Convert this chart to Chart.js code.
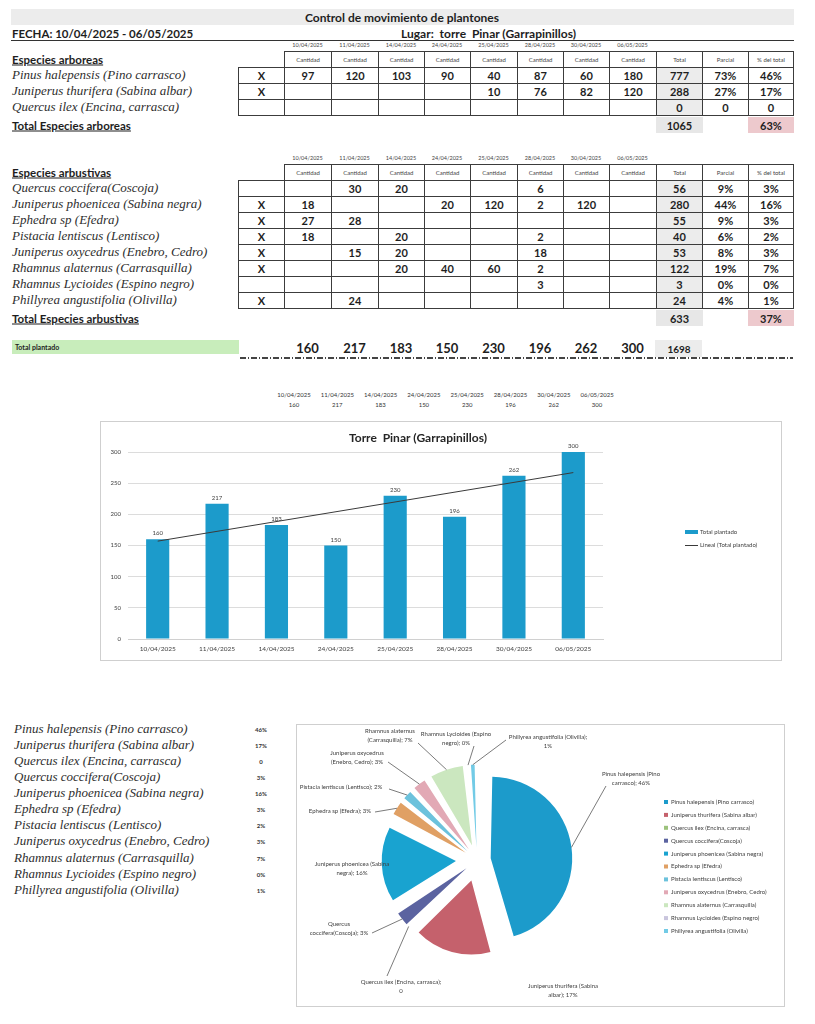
<!DOCTYPE html>
<html>
<head>
<meta charset="utf-8">
<script src="https://cdn.jsdelivr.net/npm/chart.js@4.4.1/dist/chart.umd.min.js"></script>
<style>
body { margin:0; background:#fff; }
#page { position:relative; width:815px; height:1024px; overflow:hidden; font-family:Lato,'Liberation Sans',sans-serif; color:#1e1e1e; }
.abs { position:absolute; white-space:nowrap; }
.cell { position:absolute; box-sizing:border-box; display:flex; align-items:center; justify-content:center; font-weight:bold; font-size:11px; }
.brd { border:1px solid #3c3c3c; }
.tiny { font-weight:normal; font-size:6px; color:#444; }
.sp { font-family:'Liberation Serif',serif; font-style:italic; font-size:13px; color:#2e2e2e; }
.hd { font-weight:bold; font-size:11.5px; text-decoration:underline; }
.frame { position:absolute; box-sizing:border-box; border:1px solid #cfcfcf; }
canvas { position:absolute; }
</style>
</head>
<body>
<div id="page">
  <div class="frame" style="left:100px;top:421px;width:682px;height:240px;"></div>
  <canvas id="bar" width="680" height="238" style="left:101px;top:422px;width:680px;height:238px;"></canvas>
  <div class="frame" style="left:296px;top:724px;width:489px;height:283px;"></div>
  <canvas id="pie" width="487" height="281" style="left:297px;top:725px;width:487px;height:281px;"></canvas>
</div>
<script>
// ---- data read from the sheet ----
var dates = ['10/04/2025','11/04/2025','14/04/2025','24/04/2025','25/04/2025','28/04/2025','30/04/2025','06/05/2025'];

var treeNames = ['Pinus halepensis (Pino carrasco)','Juniperus thurifera (Sabina albar)','Quercus ilex (Encina, carrasca)'];
var treeMarks = ['X','X',''];
var treeCounts = [
  [97,120,103,90,40,87,60,180],
  [null,null,null,null,10,76,82,120],
  [null,null,null,null,null,null,null,null]
];
var treeTotals = [777,288,0];
var treeParcial = ['73%','27%','0'];
var treeShare = ['46%','17%','0'];
var treeSum = 1065;
var treeSumShare = '63%';

var shrubNames = ['Quercus coccifera(Coscoja)','Juniperus phoenicea (Sabina negra)','Ephedra sp (Efedra)','Pistacia lentiscus (Lentisco)','Juniperus oxycedrus (Enebro, Cedro)','Rhamnus alaternus (Carrasquilla)','Rhamnus Lycioides (Espino negro)','Phillyrea angustifolia (Olivilla)'];
var shrubMarks = ['','X','X','X','X','X','','X'];
var shrubCounts = [
  [null,30,20,null,null,6,null,null],
  [18,null,null,20,120,2,120,null],
  [27,28,null,null,null,null,null,null],
  [18,null,20,null,null,2,null,null],
  [null,15,20,null,null,18,null,null],
  [null,null,20,40,60,2,null,null],
  [null,null,null,null,null,3,null,null],
  [null,24,null,null,null,null,null,null]
];
var shrubTotals = [56,280,55,40,53,122,3,24];
var shrubParcial = ['9%','44%','9%','6%','8%','19%','0%','4%'];
var shrubShare = ['3%','16%','3%','2%','3%','7%','0%','1%'];
var shrubSum = 633;
var shrubSumShare = '37%';

var dailyTotals = [160,217,183,150,230,196,262,300];
var grandTotal = 1698;
var trendEnds = [157,267];   // linear trend line, read at first and last date

var pieNames = treeNames.concat(shrubNames);
var pieValues = treeTotals.concat(shrubTotals);
var pieShareText = treeShare.concat(shrubShare);
var pieColors = ['#1c9bcb','#c5616c','#9cc27c','#5b63a0','#19a3d0','#e0a064','#6cc2dc','#e2a9b5','#cbe7bf','#c9c5dd','#72cbe6'];

// ---- layout ----
var page = document.getElementById('page');
var colX = [238,284,331,378,424,470,517,563,609,656,702,748,793];

function put(text, x, y, cls, center, st) {
  var d = document.createElement('div');
  d.className = 'abs ' + (cls || '');
  d.textContent = text;
  d.style.left = x + 'px';
  d.style.top = y + 'px';
  d.style.transform = center ? 'translate(-50%,-50%)' : 'translateY(-50%)';
  if (st) Object.assign(d.style, st);
  page.appendChild(d);
  return d;
}
function cell(c, y1, y2, text, cls, st) {
  var d = document.createElement('div');
  d.className = 'cell ' + (cls || '');
  d.style.left = colX[c] + 'px';
  d.style.top = y1 + 'px';
  d.style.width = (colX[c + 1] - colX[c] + 1) + 'px';
  d.style.height = (y2 - y1 + 1) + 'px';
  d.textContent = text == null ? '' : text;
  if (st) Object.assign(d.style, st);
  page.appendChild(d);
  return d;
}

// header
var bar = document.createElement('div');
bar.className = 'abs';
Object.assign(bar.style, {left:'11px', top:'9px', width:'783px', height:'16px', background:'#ececec'});
page.appendChild(bar);
put('Control de movimiento de plantones', 402, 17, '', true, {fontWeight:'bold', fontSize:'12px'});
put('FECHA: 10/04/2025 - 06/05/2025', 12, 33, '', false, {fontWeight:'bold', fontSize:'11.5px'});
put('Lugar:  torre  Pinar (Garrapinillos)', 401, 33, '', false, {fontWeight:'bold', fontSize:'12px', whiteSpace:'pre'});
var rule = document.createElement('div');
rule.className = 'abs';
Object.assign(rule.style, {left:'11px', top:'40px', width:'783px', height:'0', borderTop:'1.5px solid #333'});
page.appendChild(rule);

function buildTable(top, rowH, title, totalTitle, names, marks, counts, totals, parcial, share, sum, sumShare) {
  var hTop = top, hBot = top + rowH;
  dates.forEach(function (d, i) {
    put(d, (colX[i + 1] + colX[i + 2]) / 2, hTop - 6, 'tiny', true, {fontSize:'5.5px'});
    cell(i + 1, hTop, hBot, 'Cantidad', 'brd tiny');
  });
  cell(9, hTop, hBot, 'Total', 'brd tiny');
  cell(10, hTop, hBot, 'Parcial', 'brd tiny');
  cell(11, hTop, hBot, '% del total', 'brd tiny');
  put(title, 12, hTop + rowH / 2, 'hd');
  names.forEach(function (n, r) {
    var y1 = hBot + r * rowH, y2 = y1 + rowH;
    put(n, 12, (y1 + y2) / 2, 'sp');
    cell(0, y1, y2, marks[r], 'brd');
    counts[r].forEach(function (v, i) { cell(i + 1, y1, y2, v, 'brd'); });
    cell(9, y1, y2, totals[r], 'brd', {background:'#ececec'});
    cell(10, y1, y2, parcial[r], 'brd');
    cell(11, y1, y2, share[r], 'brd');
  });
  var t1 = hBot + names.length * rowH + 2, t2 = t1 + 15;
  put(totalTitle, 12, (t1 + t2) / 2, 'hd');
  cell(9, t1, t2, sum, '', {background:'#e7e7e7'});
  cell(11, t1, t2, sumShare, '', {background:'#edc9cd'});
}
buildTable(51, 16, 'Especies arboreas', 'Total Especies arboreas', treeNames, treeMarks, treeCounts, treeTotals, treeParcial, treeShare, treeSum, treeSumShare);
buildTable(164, 16, 'Especies arbustivas', 'Total Especies arbustivas', shrubNames, shrubMarks, shrubCounts, shrubTotals, shrubParcial, shrubShare, shrubSum, shrubSumShare);

// total plantado row
var g = document.createElement('div');
g.className = 'abs';
Object.assign(g.style, {left:'12px', top:'340px', width:'227px', height:'14px', background:'#c8edbb'});
page.appendChild(g);
put('Total plantado', 15, 347, '', false, {fontWeight:'bold', fontSize:'7px'});
dailyTotals.forEach(function (v, i) {
  put(String(v), (colX[i + 1] + colX[i + 2]) / 2, 348, '', true, {fontWeight:'bold', fontSize:'13px'});
});
var gt = document.createElement('div');
gt.className = 'abs';
Object.assign(gt.style, {left:'655px', top:'340px', width:'47px', height:'17px', background:'#ececec'});
page.appendChild(gt);
put(String(grandTotal), 679, 349, '', true, {fontWeight:'bold', fontSize:'10px'});
var dash = document.createElement('div');
dash.className = 'abs';
Object.assign(dash.style, {left:'240px', top:'357px', width:'553px', height:'2px',
  background:'repeating-linear-gradient(90deg,#444 0 6px,transparent 6px 8px,#444 8px 9px,transparent 9px 11px)'});
page.appendChild(dash);

// small date / value list over the bar chart
dates.forEach(function (d, i) {
  var x = 294 + i * 43.3;
  put(d, x, 394, '', true, {fontSize:'6px', color:'#333'});
  put(String(dailyTotals[i]), x, 404, '', true, {fontSize:'6px', color:'#333'});
});

// species list beside the pie
pieNames.forEach(function (n, i) {
  var y = 729 + i * 16.07;
  put(n, 14, y, 'sp');
  put(pieShareText[i], 261, y, '', true, {fontWeight:'bold', fontSize:'6px', color:'#333'});
});

// ---- bar chart ----
var trendLine = dates.map(function () { return null; });
trendLine[0] = trendEnds[0];
trendLine[trendLine.length - 1] = trendEnds[1];

var barExtras = {
  id: 'barExtras',
  afterDatasetsDraw: function (chart) {
    var ctx = chart.ctx;
    var meta = chart.getDatasetMeta(0);
    ctx.save();
    ctx.fillStyle = '#404040';
    ctx.font = '6px Lato';
    ctx.textAlign = 'center';
    ctx.textBaseline = 'alphabetic';
    meta.data.forEach(function (b, i) {
      ctx.fillText(String(dailyTotals[i]), b.x, b.y - 4);
    });
    // title
    ctx.fillStyle = '#262626';
    ctx.font = 'bold 12px Lato';
    ctx.fillText('Torre  Pinar (Garrapinillos)', 317, 20);
    // legend
    var a = chart.chartArea;
    var lx = a.right + 82;
    ctx.fillStyle = '#1c9bcb';
    ctx.fillRect(lx, 108, 13, 4);
    ctx.strokeStyle = '#3a3a3a';
    ctx.lineWidth = 1;
    ctx.beginPath();
    ctx.moveTo(lx, 123.5);
    ctx.lineTo(lx + 13, 123.5);
    ctx.stroke();
    ctx.fillStyle = '#404040';
    ctx.font = '6px Lato';
    ctx.textAlign = 'left';
    ctx.textBaseline = 'middle';
    ctx.fillText('Total plantado', lx + 15, 110);
    ctx.fillText('Lineal (Total plantado)', lx + 15, 123);
    ctx.restore();
  }
};

new Chart(document.getElementById('bar'), {
  type: 'bar',
  data: {
    labels: dates,
    datasets: [
      {label:'Total plantado', data:dailyTotals, backgroundColor:'#1c9bcb', barPercentage:0.39, categoryPercentage:1, order:1},
      {type:'line', label:'Lineal (Total plantado)', data:trendLine, borderColor:'#3a3a3a', borderWidth:1, pointRadius:0, spanGaps:true, order:0}
    ]
  },
  options: {
    responsive:false, animation:false, events:[],
    layout:{padding:{top:30, right:178, left:0, bottom:0}},
    plugins:{legend:{display:false}, tooltip:{enabled:false}},
    scales:{
      x:{grid:{display:false, drawTicks:false}, border:{color:'#d0d0d0'},
         ticks:{font:{size:6.5, family:'Lato'}, color:'#404040', maxRotation:0, autoSkip:false, padding:6},
         afterFit:function (s) { s.height = 21; }},
      y:{min:0, max:300, ticks:{stepSize:50, font:{size:6, family:'Lato'}, color:'#404040', padding:7},
         grid:{color:'#dcdcdc', drawTicks:false}, border:{display:false},
         afterFit:function (s) { s.width = 27; }}
    }
  },
  plugins:[barExtras]
});

// ---- pie chart ----
var SHIFT = 24; // explosion distance of every slice
function explode(c) {
  if (c.dataIndex == null) return 0;
  var d = c.dataset.data, sum = 0;
  d.forEach(function (v) { sum += v; });
  var circ = 2 * Math.PI * d[c.dataIndex] / sum;
  var fix = 1 - Math.sin(Math.min(Math.PI, circ));
  return 4 * SHIFT / (1 + fix);
}

// label centre and leader start relative to pie centre; words on first line (0 = one line)
var pieLabelPos = [
  [154,-86, 1, 129,-74, 3],
  [86,126, 0, 0,0, 3],
  [-76,122, 1, -90,116, 4],
  [-138,64, 1, -105,73, 1],
  [-125,4, 0, 0,0, 3],
  [-137,-49, 1, -102,-48, 0],
  [-136,-73, 1, -88,-71, 0],
  [-120,-107, 1, -89,-98, 2],
  [-87,-129, 1, -59,-117, 2],
  [-21,-126, 1, -3,-114, 3],
  [71,-123, 1, 29,-120, 3]
];

var pieExtras = {
  id: 'pieExtras',
  afterDatasetsDraw: function (chart) {
    var ctx = chart.ctx;
    var meta = chart.getDatasetMeta(0);
    ctx.save();
    ctx.font = '6px Lato';
    ctx.textBaseline = 'middle';
    meta.data.forEach(function (el, i) {
      var p = pieLabelPos[i];
      var cx = el.x, cy = el.y;
      if (p[2]) {
        var mid = (el.startAngle + el.endAngle) / 2;
        var rr = el.outerRadius + SHIFT;
        ctx.strokeStyle = '#595959';
        ctx.lineWidth = 0.8;
        ctx.beginPath();
        ctx.moveTo(cx + p[3], cy + p[4]);
        ctx.lineTo(cx + Math.cos(mid) * rr, cy + Math.sin(mid) * rr);
        ctx.stroke();
      }
      var words = (pieNames[i] + '; ' + pieShareText[i]).split(' ');
      var lines = p[5] ? [words.slice(0, p[5]).join(' '), words.slice(p[5]).join(' ')] : [words.join(' ')];
      ctx.fillStyle = '#404040';
      ctx.textAlign = 'center';
      lines.forEach(function (t, k) { ctx.fillText(t, cx + p[0], cy + p[1] + k * 9); });
    });
    // legend
    ctx.textAlign = 'left';
    pieNames.forEach(function (n, i) {
      var y = 77 + i * 12.9;
      ctx.fillStyle = pieColors[i];
      ctx.fillRect(367, y - 2, 4, 4);
      ctx.fillStyle = '#404040';
      ctx.fillText(n, 374, y);
    });
    ctx.restore();
  }
};

new Chart(document.getElementById('pie'), {
  type: 'pie',
  data: {
    labels: pieNames,
    datasets: [{data:pieValues, backgroundColor:pieColors, borderWidth:0, offset:explode, hoverOffset:0}]
  },
  options: {
    responsive:false, animation:false, events:[],
    layout:{padding:{left:66, top:21, right:193, bottom:32}},
    plugins:{legend:{display:false}, tooltip:{enabled:false}}
  },
  plugins:[pieExtras]
});
</script>
</body>
</html>
